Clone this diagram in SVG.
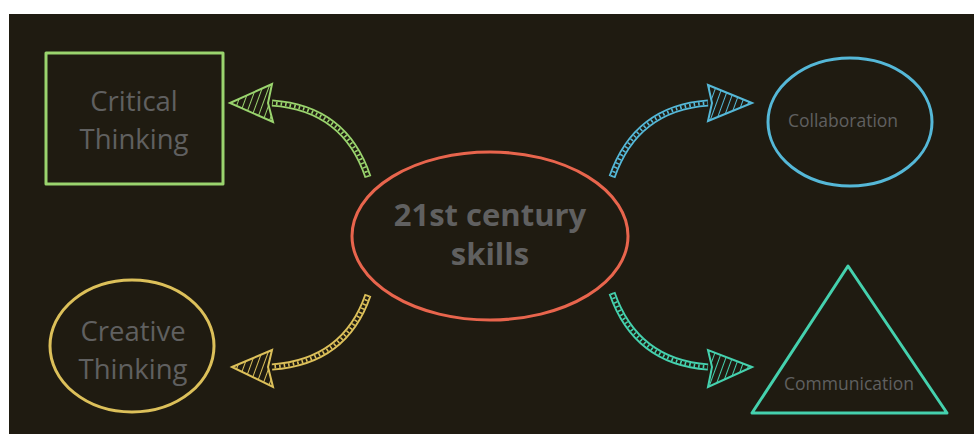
<svg xmlns="http://www.w3.org/2000/svg" xmlns:xlink="http://www.w3.org/1999/xlink" width="974" height="434" viewBox="0 0 974 434">
  <style>
    .label { font-family: "Open Sans", "DejaVu Sans", sans-serif; fill: #606060; text-anchor: middle; font-variant-ligatures: none; }
    .big { font-size: 27.5px; }
    .small { font-size: 17.5px; }
    .title { font-size: 31px; font-weight: bold; }
    .node { fill: none; stroke-width: 3; stroke-linejoin: round; }
    .rail { fill: none; stroke-width: 7; stroke-linecap: butt; }
    .gap { fill: none; stroke: #1f1b11; stroke-width: 3.4; }
    .rung { fill: none; stroke-width: 3.4; stroke-dasharray: 1.6 3; }
    .head { stroke-width: 2; stroke-linejoin: miter; }
  </style>
  <defs>
    <pattern id="hatch-green" width="6" height="6" patternUnits="userSpaceOnUse" patternTransform="rotate(20)">
      <rect width="6" height="6" fill="#1f1b11"/>
      <line x1="0" y1="0" x2="0" y2="6" stroke="#9ad46e" stroke-width="2"/>
    </pattern>
    <pattern id="hatch-blue" width="6" height="6" patternUnits="userSpaceOnUse" patternTransform="rotate(20)">
      <rect width="6" height="6" fill="#1f1b11"/>
      <line x1="0" y1="0" x2="0" y2="6" stroke="#55b8d8" stroke-width="2"/>
    </pattern>
    <pattern id="hatch-yellow" width="6" height="6" patternUnits="userSpaceOnUse" patternTransform="rotate(20)">
      <rect width="6" height="6" fill="#1f1b11"/>
      <line x1="0" y1="0" x2="0" y2="6" stroke="#dcc05a" stroke-width="2"/>
    </pattern>
    <pattern id="hatch-teal" width="6" height="6" patternUnits="userSpaceOnUse" patternTransform="rotate(20)">
      <rect width="6" height="6" fill="#1f1b11"/>
      <line x1="0" y1="0" x2="0" y2="6" stroke="#45d1ae" stroke-width="2"/>
    </pattern>
    <!-- curved shafts -->
    <path id="shaft-tl" d="M 368 177 Q 345 108 272 103"/>
    <path id="shaft-tr" d="M 612 177 Q 636 108 708 103"/>
    <path id="shaft-bl" d="M 368 295 Q 345 362 272 367"/>
    <path id="shaft-br" d="M 612 293 Q 636 362 708 367"/>
  </defs>

  <!-- chalkboard -->
  <rect x="0" y="0" width="974" height="434" fill="#ffffff"/>
  <rect x="9" y="14" width="965" height="420" fill="#1f1b11"/>

  <!-- connectors -->
  <g id="connectors">
    <g id="to-critical">
      <use xlink:href="#shaft-tl" class="rail" stroke="#9ad46e"/>
      <use xlink:href="#shaft-tl" class="gap"/>
      <use xlink:href="#shaft-tl" class="rung" stroke="#9ad46e"/>
      <polygon class="head" points="230,103 272,84 268,103 273,122" fill="url(#hatch-green)" stroke="#9ad46e"/>
    </g>
    <g id="to-collaboration">
      <use xlink:href="#shaft-tr" class="rail" stroke="#55b8d8"/>
      <use xlink:href="#shaft-tr" class="gap"/>
      <use xlink:href="#shaft-tr" class="rung" stroke="#55b8d8"/>
      <polygon class="head" points="752,103 708,85 712,103 708,121" fill="url(#hatch-blue)" stroke="#55b8d8"/>
    </g>
    <g id="to-creative">
      <use xlink:href="#shaft-bl" class="rail" stroke="#dcc05a"/>
      <use xlink:href="#shaft-bl" class="gap"/>
      <use xlink:href="#shaft-bl" class="rung" stroke="#dcc05a"/>
      <polygon class="head" points="232,367 272,350 268,367 273,387" fill="url(#hatch-yellow)" stroke="#dcc05a"/>
    </g>
    <g id="to-communication">
      <use xlink:href="#shaft-br" class="rail" stroke="#45d1ae"/>
      <use xlink:href="#shaft-br" class="gap"/>
      <use xlink:href="#shaft-br" class="rung" stroke="#45d1ae"/>
      <polygon class="head" points="752,367 708,350 712,367 708,387" fill="url(#hatch-teal)" stroke="#45d1ae"/>
    </g>
  </g>

  <!-- nodes -->
  <g id="critical-thinking">
    <rect class="node" x="46" y="53" width="177" height="131" stroke="#9ad46e"/>
    <text class="label big" x="134" y="111">Critical</text>
    <text class="label big" x="134" y="149">Thinking</text>
  </g>

  <g id="skills">
    <ellipse class="node" cx="490" cy="236" rx="138" ry="84" stroke="#e8654d"/>
    <text class="label title" x="490" y="226">21st century</text>
    <text class="label title" x="490" y="265">skills</text>
  </g>

  <g id="collaboration">
    <ellipse class="node" cx="850" cy="122" rx="82" ry="64" stroke="#55b8d8"/>
    <text class="label small" x="843" y="127">Collaboration</text>
  </g>

  <g id="creative-thinking">
    <ellipse class="node" cx="132" cy="346" rx="82" ry="66" stroke="#dcc05a"/>
    <text class="label big" x="133" y="341">Creative</text>
    <text class="label big" x="133" y="379">Thinking</text>
  </g>

  <g id="communication">
    <polygon class="node" points="848,266 752,413 947,413" stroke="#45d1ae"/>
    <text class="label small" x="849" y="390">Communication</text>
  </g>
</svg>
